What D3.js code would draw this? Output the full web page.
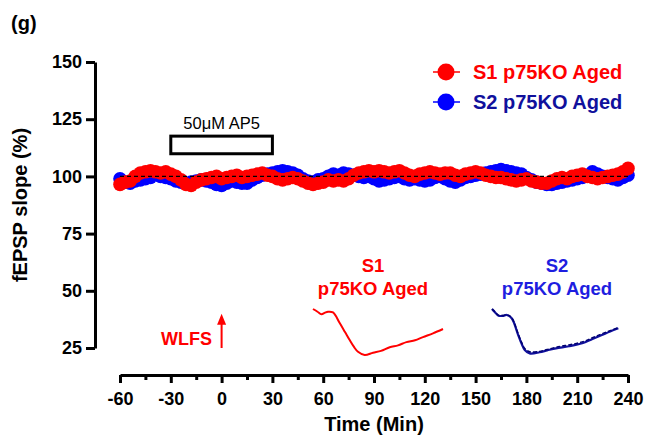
<!DOCTYPE html>
<html>
<head>
<meta charset="utf-8">
<script src="https://cdn.jsdelivr.net/npm/d3@7"></script>
<style>
  body { margin: 0; background: #fff; }
  text { font-family: 'Liberation Sans', Arial, sans-serif; }
</style>
</head>
<body>
<div id="chart"></div>
<script>
// time points every 3 min, -60 .. 240
var times = d3.range(-60, 241, 3)

var s1Values = [
  96.5, 97.5, 98.0, 100.0, 101.5, 102.0, 102.5, 102.0, 101.5, 102.0,
  101.0, 100.0, 98.5, 96.5, 96.0, 97.5, 98.5, 99.0, 99.5, 100.0,
  99.0, 99.5, 100.0, 100.5, 99.5, 100.0, 100.5, 101.0, 101.5, 100.5,
  100.0, 99.0, 98.5, 99.0, 99.5, 99.0, 98.0, 97.0, 96.5, 97.0,
  97.5, 98.5, 98.0, 98.5, 98.0, 99.0, 100.5, 101.5, 102.0, 102.5,
  102.0, 102.5, 102.0, 101.5, 102.0, 102.5, 101.5, 100.5, 100.0, 101.0,
  101.5, 102.0, 101.5, 101.0, 101.5, 101.5, 100.5, 100.0, 101.0, 101.5,
  102.0, 101.5, 100.5, 100.0, 99.5, 99.5, 99.0, 98.5, 98.0, 98.5,
  99.0, 98.0, 97.5, 97.0, 97.0, 98.0, 99.0, 99.5, 99.0, 100.0,
  100.5, 101.0, 100.0, 99.5, 99.0, 99.5, 100.0, 100.5, 101.0, 102.0,
  103.5
]

var s2Values = [
  99.0, 97.5, 97.0, 98.0, 98.5, 99.0, 99.5, 101.0, 100.0, 99.5,
  99.0, 98.0, 97.5, 97.0, 97.5, 98.0, 98.5, 98.0, 97.5, 96.5,
  96.0, 97.0, 98.0, 97.5, 97.0, 97.0, 98.5, 99.5, 100.5, 101.0,
  101.5, 102.0, 102.5, 102.0, 101.5, 100.5, 99.0, 98.0, 97.5, 98.5,
  99.0, 100.0, 101.0, 100.5, 101.5, 101.0, 100.5, 100.0, 99.5, 100.0,
  99.0, 98.0, 98.5, 99.0, 99.5, 100.0, 99.0, 98.5, 99.0, 98.5,
  98.0, 98.5, 99.5, 100.0, 99.0, 98.0, 97.5, 98.5, 99.5, 100.0,
  100.5, 101.0, 101.5, 102.0, 102.5, 103.0, 102.5, 102.0, 101.5, 101.0,
  99.5, 98.5, 97.5, 97.0, 96.5, 96.5, 97.0, 97.5, 98.0, 98.5,
  99.0, 99.5, 100.5, 102.0, 101.0, 100.0, 99.5, 99.0, 98.5, 99.5,
  100.5
]

var yTicks = [25, 50, 75, 100, 125, 150]
var xTicks = [-60, -30, 0, 30, 60, 90, 120, 150, 180, 210, 240]
var xMinorTicks = [-45, -15, 15, 45, 75, 105, 135, 165, 195, 225]

var seriesNames = ['S1 p75KO Aged', 'S2 p75KO Aged']

// AP5 application, min
var ap5Window = [-30, 30]

// example fEPSP traces (ms, mV)
var s1TraceMs = [0, 0.45, 0.84, 1.2, 1.5, 2.0, 2.67, 3.2, 3.67, 4.1, 4.5, 5.17, 6.0, 6.8, 7.67, 8.5, 9.34, 10.2, 11.0, 12.0, 13.0]
var s1TraceMv = [0, -0.12, -0.23, -0.16, -0.12, -0.15, -0.61, -1.0, -1.35, -1.65, -1.86, -2.0, -1.9, -1.82, -1.66, -1.58, -1.44, -1.36, -1.22, -1.06, -0.87]
var s2TraceMs = [0, 0.3, 0.66, 1.1, 1.5, 2.0, 2.66, 3.0, 3.33, 3.83, 4.83, 5.6, 6.5, 7.8, 9.16, 10.2, 11.16, 12.0, 12.83]
var s2TraceMv = [0, -0.14, -0.29, -0.3, -0.26, -0.4, -1.13, -1.5, -1.78, -1.93, -1.88, -1.8, -1.71, -1.62, -1.49, -1.3, -1.13, -0.98, -0.84]
var s2TraceDashMv = [0, -0.12, -0.27, -0.28, -0.25, -0.38, -1.08, -1.44, -1.72, -1.86, -1.84, -1.76, -1.66, -1.56, -1.43, -1.25, -1.08, -0.94, -0.8]

var red = '#ff0000'
var blue = '#0000ff'
var navy = '#10109c'

var svg = d3
  .select('#chart')
  .append('svg')
  .attr('width', 645)
  .attr('height', 436)

var xScale = d3.scaleLinear().domain([-60, 240]).range([120, 628])
var yScale = d3.scaleLinear().domain([25, 150]).range([348, 62])

// axes (plain hyphen for negatives, like the original)
svg
  .append('g')
  .attr('transform', 'translate(95,0)')
  .call(
    d3
      .axisLeft(yScale)
      .tickValues(yTicks)
      .tickSize(9)
      .tickSizeOuter(0)
      .tickPadding(4)
      .tickFormat(d => String(d))
  )

svg
  .append('g')
  .attr('transform', 'translate(0,375)')
  .call(
    d3
      .axisBottom(xScale)
      .tickValues(xTicks)
      .tickSize(8)
      .tickSizeOuter(0)
      .tickPadding(9)
      .tickFormat(d => String(d))
  )

svg
  .append('g')
  .attr('transform', 'translate(0,375)')
  .call(d3.axisBottom(xScale).tickValues(xMinorTicks).tickSize(5).tickSizeOuter(0).tickFormat(''))
  .select('.domain')
  .remove()

svg.selectAll('.domain').attr('stroke', '#000').attr('stroke-width', 3)
svg.selectAll('.tick line').attr('stroke', '#000').attr('stroke-width', 3)
svg
  .selectAll('.tick text')
  .attr('fill', '#000')
  .attr('font-size', 18)
  .attr('font-weight', 700)
  .attr('font-family', "'Liberation Sans', Arial, sans-serif")

// data
var s1 = times.map((t, i) => ({ t: t, v: s1Values[i] }))
var s2 = times.map((t, i) => ({ t: t, v: s2Values[i] }))

var line = d3
  .line()
  .x(d => xScale(d.t))
  .y(d => yScale(d.v))

function drawSeries(data, color) {
  svg
    .append('path')
    .datum(data)
    .attr('d', line)
    .attr('fill', 'none')
    .attr('stroke', color)
    .attr('stroke-width', 1.5)

  svg
    .append('g')
    .selectAll('circle')
    .data(data)
    .enter()
    .append('circle')
    .attr('cx', d => xScale(d.t))
    .attr('cy', d => yScale(d.v))
    .attr('r', 6.8)
    .attr('fill', color)
}

drawSeries(s2, blue)
drawSeries(s1, red)

// 100% baseline
svg
  .append('line')
  .attr('x1', xScale(-60))
  .attr('x2', xScale(240))
  .attr('y1', yScale(100))
  .attr('y2', yScale(100))
  .attr('stroke', '#000')
  .attr('stroke-width', 1.2)
  .attr('stroke-dasharray', '4,3')

// AP5 bar
svg
  .append('rect')
  .attr('x', xScale(ap5Window[0]))
  .attr('width', xScale(ap5Window[1]) - xScale(ap5Window[0]))
  .attr('y', yScale(117.6))
  .attr('height', yScale(109.9) - yScale(117.6))
  .attr('fill', 'none')
  .attr('stroke', '#000')
  .attr('stroke-width', 3)

svg
  .append('text')
  .attr('x', (xScale(ap5Window[0]) + xScale(ap5Window[1])) / 2)
  .attr('y', 129)
  .attr('text-anchor', 'middle')
  .attr('font-size', 16.5)
  .text('50\u03bcM AP5')

// WLFS arrow
var ax = xScale(0)
var aTop = yScale(40)
svg
  .append('line')
  .attr('x1', ax)
  .attr('x2', ax)
  .attr('y1', yScale(25))
  .attr('y2', aTop + 8)
  .attr('stroke', red)
  .attr('stroke-width', 2)

svg
  .append('path')
  .attr('d', 'M' + ax + ',' + aTop + ' L' + (ax + 4.5) + ',' + (aTop + 11) + ' L' + (ax - 4.5) + ',' + (aTop + 11) + ' Z')
  .attr('fill', red)

svg
  .append('text')
  .attr('x', 212)
  .attr('y', 345)
  .attr('text-anchor', 'end')
  .attr('font-size', 18)
  .attr('font-weight', 700)
  .attr('fill', red)
  .text('WLFS')

// inset traces
function drawTrace(ms, mv, x0, x1, y0, y1, color, width, dash) {
  var tx = d3.scaleLinear().domain([0, 13]).range([x0, x1])
  var ty = d3.scaleLinear().domain([0, -2]).range([y0, y1])
  var pts = ms.map((m, i) => [tx(m), ty(mv[i])])
  svg
    .append('path')
    .attr('d', d3.line().curve(d3.curveCatmullRom)(pts))
    .attr('fill', 'none')
    .attr('stroke', color)
    .attr('stroke-width', width)
    .attr('stroke-dasharray', dash)
}

drawTrace(s1TraceMs, s1TraceMv, 313, 443, 309, 355, red, 2, null)
drawTrace(s2TraceMs, s2TraceMv, 492, 620, 309, 355, navy, 2.2, null)
drawTrace(s2TraceMs, s2TraceDashMv, 492, 620, 309, 355, '#000070', 1.4, '4,2')

function traceLabel(x, color, name) {
  var parts = name.split(' ')
  svg
    .append('text')
    .attr('x', x)
    .attr('y', 272)
    .attr('text-anchor', 'middle')
    .attr('font-size', 18.5)
    .attr('font-weight', 700)
    .attr('fill', color)
    .text(parts[0])
  svg
    .append('text')
    .attr('x', x)
    .attr('y', 295)
    .attr('text-anchor', 'middle')
    .attr('font-size', 18.5)
    .attr('font-weight', 700)
    .attr('fill', color)
    .text(parts.slice(1).join(' '))
}

traceLabel(373, red, seriesNames[0])
traceLabel(557, '#1e1ee0', seriesNames[1])

// legend
var legend = svg
  .selectAll('.legend')
  .data(seriesNames)
  .enter()
  .append('g')
  .attr('class', 'legend')
  .attr('transform', (d, i) => 'translate(446,' + (72 + i * 30) + ')')

legend
  .append('line')
  .attr('x1', -13)
  .attr('x2', 14)
  .attr('stroke', (d, i) => (i === 0 ? red : blue))
  .attr('stroke-width', 1.5)

legend
  .append('circle')
  .attr('r', 8.5)
  .attr('fill', (d, i) => (i === 0 ? red : blue))

legend
  .append('text')
  .attr('x', 27)
  .attr('y', 7)
  .attr('font-size', 20)
  .attr('font-weight', 700)
  .attr('fill', (d, i) => (i === 0 ? red : navy))
  .text(d => d)

// titles
svg
  .append('text')
  .attr('x', 11)
  .attr('y', 30)
  .attr('font-size', 20)
  .attr('font-weight', 700)
  .text('(g)')

svg
  .append('text')
  .attr('transform', 'translate(27,205) rotate(-90)')
  .attr('text-anchor', 'middle')
  .attr('font-size', 20)
  .attr('font-weight', 700)
  .text('fEPSP slope (%)')

svg
  .append('text')
  .attr('x', 374)
  .attr('y', 431)
  .attr('text-anchor', 'middle')
  .attr('font-size', 20)
  .attr('font-weight', 700)
  .text('Time (Min)')
</script>
</body>
</html>
